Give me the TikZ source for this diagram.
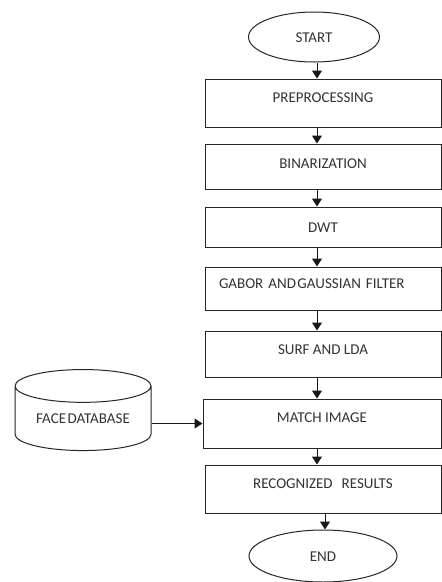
\documentclass[tikz,border=0pt]{standalone}
\usepackage{fontspec}
\setmainfont{Carlito}
\usetikzlibrary{arrows.meta,shapes.geometric}
\begin{document}
\begin{tikzpicture}[x=1pt,y=-1pt,
  line width=1pt,
  every node/.style={font=\fontsize{15}{18}\selectfont, text=black!80},
  stepbox/.style={draw=black!85, rectangle, inner sep=0pt, minimum width=236pt, text height=10pt},
  term/.style={draw=black!85, ellipse, inner sep=0pt, text height=10pt, text depth=0pt},
  db/.style={draw=black!85, cylinder, shape border rotate=90, aspect=0.35, inner sep=0pt, minimum width=136pt, minimum height=81pt},
  arr/.style={draw=black!90, -{Triangle[width=10pt,length=8pt]}}]
\useasboundingbox (0,0) rectangle (442,582);
\fill[white] (0,0) rectangle (442,582);
\node[term, minimum width=131pt, minimum height=50pt] (start) at (314,37) {START};
\node[stepbox, minimum height=48pt, text depth=12pt] (pre) at (323,103) {PREPROCESSING};
\node[stepbox, minimum height=45pt, text depth=7pt] (bin) at (323,166.5) {BINARIZATION};
\node[stepbox, minimum height=40pt, text depth=0pt] (dwt) at (323,227) {DWT};
\node[stepbox, minimum height=43pt, text depth=11pt, text width=222pt, align=left] (gab) at (323,288.5) {\hspace*{7pt}GABOR AND\hspace{0.1em}GAUSSIAN FILTER};
\node[stepbox, minimum height=46pt, text depth=10pt] (surf) at (323,354) {SURF AND LDA};
\node[stepbox, minimum width=238pt, minimum height=49pt, text depth=13pt] (match) at (322,423.5) {MATCH IMAGE};
\node[stepbox, minimum height=48pt, text depth=12pt] (rec) at (323,489) {RECOGNIZED\hspace{0.6em}RESULTS};
\node[term, minimum width=148pt, minimum height=52pt] (end) at (323,556) {END};
\node[db] (face) at (83,418.5) {FACE\hspace{0.1em}DATABASE};
\coordinate (ax) at (317,0);
\coordinate (bx) at (325,0);
\draw[arr] (start.south -| ax) -- (pre.north -| ax);
\draw[arr] (pre.south -| ax) -- (bin.north -| ax);
\draw[arr] (bin.south -| ax) -- (dwt.north -| ax);
\draw[arr] (dwt.south -| ax) -- (gab.north -| ax);
\draw[arr] (gab.south -| ax) -- (surf.north -| ax);
\draw[arr] (surf.south -| ax) -- (match.north -| ax);
\draw[arr] (match.south -| ax) -- (rec.north -| ax);
\draw[arr] (rec.south -| bx) -- (end.north -| bx);
\draw[arr] (face.east |- match) -- (match.west);
\end{tikzpicture}
\end{document}
